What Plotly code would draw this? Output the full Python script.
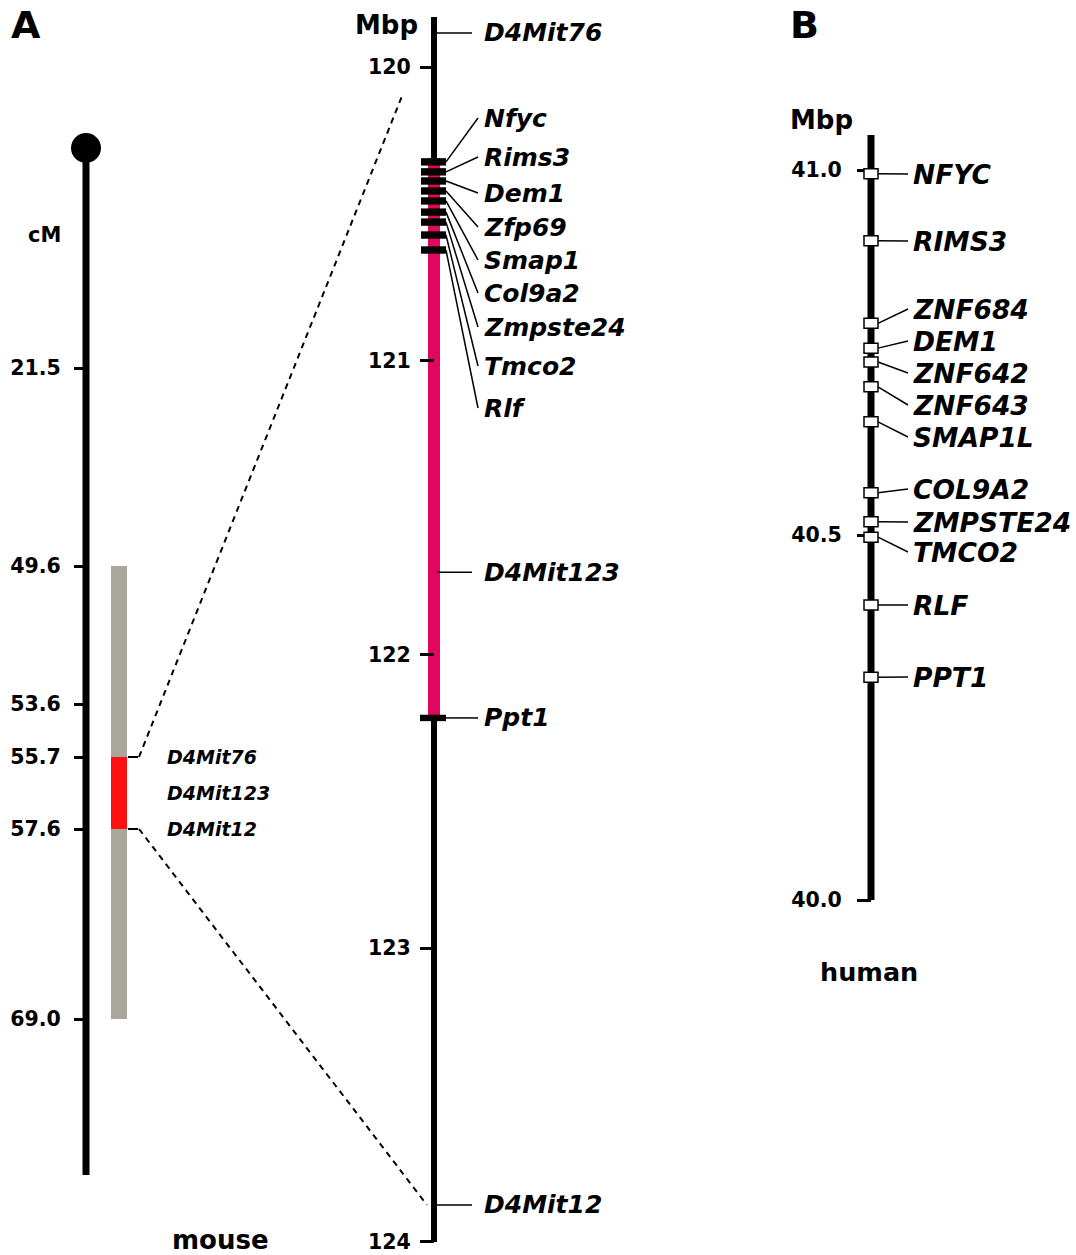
import numpy as np
import plotly.graph_objects as go

W, H = 1076, 1255

# ---------------- data ----------------
# genetic map (cM), schematic - not to scale
cm_ticks = [21.5, 49.6, 53.6, 55.7, 57.6, 69.0]
cm_tick_labels = ["21.5", "49.6", "53.6", "55.7", "57.6", "69.0"]
cm_interval = [49.6, 69.0]
cm_candidate = [55.7, 57.6]
cm_markers = ["D4Mit76", "D4Mit123", "D4Mit12"]

# mouse physical map (Mbp)
mouse_ticks = [120, 121, 122, 123, 124]
mouse_chrom = [119.83, 124.0]
mouse_region = [120.31, 122.216]
mouse_genes = ["Nfyc", "Rims3", "Dem1", "Zfp69", "Smap1", "Col9a2", "Zmpste24", "Tmco2", "Rlf"]
mouse_gene_mbp = [120.323, 120.357, 120.388, 120.422, 120.456, 120.494, 120.528, 120.572, 120.623]
mouse_markers = ["D4Mit76", "D4Mit123", "D4Mit12"]
mouse_marker_mbp = [119.884, 121.72, 123.874]
ppt1_gene = "Ppt1"
ppt1_mbp = 122.216

# human physical map (Mbp)
human_ticks = [40.0, 40.5, 41.0]
human_chrom = [40.0, 41.048]
human_genes = ["NFYC", "RIMS3", "ZNF684", "DEM1", "ZNF642", "ZNF643", "SMAP1L",
               "COL9A2", "ZMPSTE24", "TMCO2", "RLF", "PPT1"]
human_gene_mbp = [40.995, 40.903, 40.790, 40.756, 40.737, 40.703, 40.655,
                  40.558, 40.518, 40.497, 40.404, 40.305]

# ---------------- layout (positions / styles) ----------------
FONT = "DejaVu Sans"
PINK = "#E2065E"
GRAY = "#A9A69D"
RED = "#FF1010"

# schematic vertical placement of the genetic map (pixel space)
cm_tick_pos = [368, 566, 704, 757, 829, 1019]
cm_chrom_pos = [148, 1175]

# axis ranges chosen so that axes fill the canvas
M_TOP, M_BOT = 119.7719, 124.0443
H_TOP, H_BOT = 41.2329, 39.5137

def cm_y(v):
    return float(np.interp(v, cm_ticks, cm_tick_pos))

def mouse_px(v):
    return (v - M_TOP) / (M_BOT - M_TOP) * H

def human_px(v):
    return (H_TOP - v) / (H_TOP - H_BOT) * H

X_CM, X_M, X_H = 86, 434, 871
X_BAR = 119

mouse_label_px = [118, 157, 193, 227, 260, 293, 327, 366, 408]
human_label_px = [174, 241, 309, 341, 373, 405, 437, 489, 522, 552, 605, 677]

fig = go.Figure()

# chromosome backbones
fig.add_trace(go.Scatter(x=[X_CM, X_CM], y=cm_chrom_pos, mode="lines",
                         line=dict(color="black", width=7), yaxis="y3",
                         hoverinfo="skip", showlegend=False))
fig.add_trace(go.Scatter(x=[X_M, X_M], y=mouse_chrom, mode="lines",
                         line=dict(color="black", width=6), yaxis="y",
                         hoverinfo="skip", showlegend=False))
fig.add_trace(go.Scatter(x=[X_M, X_M], y=mouse_region, mode="lines",
                         line=dict(color=PINK, width=12), yaxis="y",
                         hoverinfo="skip", showlegend=False))
fig.add_trace(go.Scatter(x=[X_H, X_H], y=human_chrom, mode="lines",
                         line=dict(color="black", width=7), yaxis="y2",
                         hoverinfo="skip", showlegend=False))

shapes = []
annotations = []

# centromere
shapes.append(dict(type="circle", xref="x", yref="y3", x0=X_CM - 15, x1=X_CM + 15,
                   y0=cm_chrom_pos[0] - 15, y1=cm_chrom_pos[0] + 15,
                   fillcolor="black", line=dict(width=0)))
# interval bars on genetic map
shapes.append(dict(type="rect", xref="x", yref="y3", x0=X_BAR - 8, x1=X_BAR + 8,
                   y0=cm_y(cm_interval[0]), y1=cm_y(cm_interval[1]),
                   fillcolor=GRAY, line=dict(width=0)))
shapes.append(dict(type="rect", xref="x", yref="y3", x0=X_BAR - 8, x1=X_BAR + 8,
                   y0=cm_y(cm_candidate[0]), y1=cm_y(cm_candidate[1]),
                   fillcolor=RED, line=dict(width=0)))
for v in cm_candidate:
    shapes.append(dict(type="line", xref="x", yref="y3", x0=X_BAR + 9, x1=X_BAR + 19,
                       y0=cm_y(v), y1=cm_y(v), line=dict(color="black", width=2)))
cm_marker_y = [cm_y(cm_candidate[0]), (cm_y(cm_candidate[0]) + cm_y(cm_candidate[1])) / 2,
               cm_y(cm_candidate[1])]
for name, y in zip(cm_markers, cm_marker_y):
    annotations.append(dict(x=165, y=y, xref="x", yref="y3", text=name, showarrow=False,
                            xanchor="left", yanchor="middle",
                            font=dict(family=FONT, size=19, color="black",
                                      weight="bold", style="italic")))

# dashed connectors
shapes.append(dict(type="line", xref="x", yref="y3", x0=X_BAR + 20, y0=cm_y(cm_candidate[0]),
                   x1=403, y1=mouse_px(120.09),
                   line=dict(color="black", width=2, dash="6px,5px")))
shapes.append(dict(type="line", xref="x", yref="y3", x0=X_BAR + 20, y0=cm_y(cm_candidate[1]),
                   x1=X_M - 7, y1=mouse_px(mouse_marker_mbp[2]),
                   line=dict(color="black", width=2, dash="6px,5px")))

# mouse gene bars and leaders
for name, v, ly in zip(mouse_genes, mouse_gene_mbp, mouse_label_px):
    shapes.append(dict(type="rect", xref="x", yref="y", x0=X_M - 13, x1=X_M + 12,
                       ysizemode="pixel", yanchor=v, y0=-3.7, y1=3.7,
                       fillcolor="black", line=dict(width=0)))
    shapes.append(dict(type="line", xref="x", yref="y3", x0=X_M + 12, y0=mouse_px(v),
                       x1=478, y1=ly, line=dict(color="black", width=1.5)))
    annotations.append(dict(x=482, y=ly, xref="x", yref="y3", text=name, showarrow=False,
                            xanchor="left", yanchor="middle",
                            font=dict(family=FONT, size=25, color="black",
                                      weight="bold", style="italic")))
# Ppt1
shapes.append(dict(type="rect", xref="x", yref="y", x0=X_M - 14, x1=X_M + 12,
                   ysizemode="pixel", yanchor=ppt1_mbp, y0=-3.2, y1=3.2,
                   fillcolor="black", line=dict(width=0)))
shapes.append(dict(type="line", xref="x", yref="y", x0=X_M + 12, x1=478,
                   y0=ppt1_mbp, y1=ppt1_mbp, line=dict(color="black", width=1.5)))
annotations.append(dict(x=482, y=ppt1_mbp, xref="x", yref="y", text=ppt1_gene, showarrow=False,
                        xanchor="left", yanchor="middle",
                        font=dict(family=FONT, size=25, color="black",
                                  weight="bold", style="italic")))
# mouse markers
for name, v in zip(mouse_markers, mouse_marker_mbp):
    shapes.append(dict(type="line", xref="x", yref="y", x0=X_M + 3, x1=472,
                       y0=v, y1=v, line=dict(color="black", width=1.5)))
    annotations.append(dict(x=482, y=v, xref="x", yref="y", text=name, showarrow=False,
                            xanchor="left", yanchor="middle",
                            font=dict(family=FONT, size=25, color="black",
                                      weight="bold", style="italic")))

# human gene boxes and leaders
for name, v, ly in zip(human_genes, human_gene_mbp, human_label_px):
    shapes.append(dict(type="line", xref="x", yref="y3", x0=X_H + 7, y0=human_px(v),
                       x1=908, y1=ly, line=dict(color="black", width=1.5)))
    shapes.append(dict(type="rect", xref="x", yref="y2", x0=X_H - 7, x1=X_H + 7,
                       ysizemode="pixel", yanchor=v, y0=-5, y1=5,
                       fillcolor="white", line=dict(color="black", width=1.5)))
    annotations.append(dict(x=911, y=ly, xref="x", yref="y3", text=name, showarrow=False,
                            xanchor="left", yanchor="middle",
                            font=dict(family=FONT, size=26.5, color="black",
                                      weight="bold", style="italic")))

# titles / labels
def txt(x, y, s, size, **kw):
    annotations.append(dict(x=x, y=y, xref="x", yref="y3", text=s, showarrow=False,
                            xanchor="center", yanchor="middle",
                            font=dict(family=FONT, size=size, color="black", weight="bold"), **kw))

txt(26, 25, "A", 38)
txt(804, 25, "B", 38)
txt(44, 235, "cM", 21)
txt(386, 25, "Mbp", 26)
txt(821, 120, "Mbp", 26)
txt(220, 1240, "mouse", 26)
txt(869, 972, "human", 25.5)

axis_common = dict(showgrid=False, zeroline=False, showline=False, ticks="outside",
                   tickwidth=3, tickcolor="black", anchor="free", side="left",
                   domain=[0, 1], fixedrange=True, automargin=False,
                   tickfont=dict(family=FONT, size=20.5, color="black", weight="bold"))

fig.update_layout(
    width=W, height=H, margin=dict(l=0, r=0, t=0, b=0),
    template="none", paper_bgcolor="white", plot_bgcolor="white",
    showlegend=False,
    xaxis=dict(range=[0, W], domain=[0, 1], visible=False, fixedrange=True),
    yaxis=dict(range=[M_BOT, M_TOP], position=X_M / W, tickvals=mouse_ticks,
               ticklen=14, ticklabelstandoff=5, **axis_common),
    yaxis2=dict(range=[H_BOT, H_TOP], position=X_H / W, tickvals=human_ticks,
                tickformat=".1f", ticklen=14, ticklabelstandoff=11,
                overlaying="y", **axis_common),
    yaxis3=dict(range=[H, 0], position=X_CM / W, tickvals=cm_tick_pos,
                ticktext=cm_tick_labels, ticklen=12, ticklabelstandoff=9,
                overlaying="y", **axis_common),
    shapes=shapes, annotations=annotations,
)

fig.write_html("out.html", config={"displayModeBar": False},
               post_script="document.body.style.margin='0';document.body.style.overflow='hidden';")
